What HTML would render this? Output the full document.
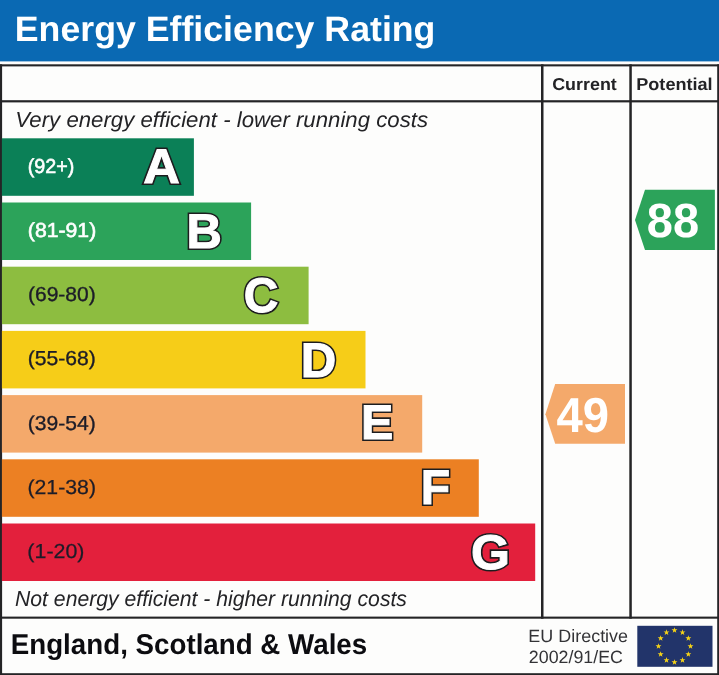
<!DOCTYPE html>
<html>
<head>
<meta charset="utf-8">
<title>Energy Efficiency Rating</title>
<style>
  html, body { margin: 0; padding: 0; background: #fdfdfc; }
  body { width: 719px; height: 675px; overflow: hidden; font-family: "Liberation Sans", sans-serif; }
  svg { display: block; will-change: transform; }
  text { font-family: "Liberation Sans", sans-serif; text-rendering: geometricPrecision; }
  .bw { fill: #fff; stroke: #fff; stroke-width: 0.6px; }
  .bd { fill: #1c1c28; stroke: #1c1c28; stroke-width: 0.35px; }
  .bl { fill: #1c1c28; stroke: #1c1c28; stroke-width: 0.25px; }
  .ltr { font-weight: bold; fill: #1d1d1f; stroke: #1d1d1f; stroke-width: 4.2px; stroke-linejoin: miter; stroke-miterlimit: 3; }
  .ltw { font-weight: bold; fill: #fff; stroke: #fff; stroke-width: 1px; stroke-linejoin: miter; stroke-miterlimit: 3; }
  .ital { font-style: italic; fill: #232326; }
  .hd { font-weight: bold; fill: #232326; }
  .eu { fill: #333336; }
  .num { font-weight: bold; fill: #fff; }
</style>
</head>
<body>
<svg width="719" height="675" viewBox="0 0 719 675">
  <rect x="0" y="0" width="719" height="675" fill="#fdfdfc"/>
  <!-- header -->
  <rect x="0" y="0" width="719" height="61.4" fill="#0a69b3"/>
  <text x="14.78" y="41.40" font-size="35.4px" textLength="420.67" lengthAdjust="spacingAndGlyphs" font-weight="bold" fill="#fff">Energy Efficiency Rating</text>

  <!-- frame -->
  <g fill="#242426">
    <rect x="0" y="64.3" width="719" height="2.1"/>
    <rect x="0" y="64.3" width="2.1" height="610.7"/>
    <rect x="717.2" y="64.3" width="1.8" height="610.7"/>
    <rect x="0" y="673.2" width="719" height="1.8"/>
    <rect x="0" y="100.2" width="719" height="2.2"/>
    <rect x="0" y="616.6" width="719" height="2.1"/>
    <rect x="541" y="64.3" width="2.5" height="554.4"/>
    <rect x="629.3" y="64.3" width="2.5" height="554.4"/>
  </g>

  <text x="552.21" y="89.60" font-size="17.2px" textLength="64.59" lengthAdjust="spacingAndGlyphs" class="hd">Current</text>
  <text x="636.26" y="89.60" font-size="17.2px" textLength="76.38" lengthAdjust="spacingAndGlyphs" class="hd">Potential</text>
  <text x="15.39" y="126.75" font-size="21.8px" textLength="412.65" lengthAdjust="spacingAndGlyphs" class="ital">Very energy efficient - lower running costs</text>
  <text x="15.02" y="606.00" font-size="21.8px" textLength="391.95" lengthAdjust="spacingAndGlyphs" class="ital">Not energy efficient - higher running costs</text>

  <!-- bars -->
  <rect x="1.9" y="138.3" width="192.0" height="57.5" fill="#0b8057"/>
  <rect x="1.9" y="202.5" width="249.2" height="57.5" fill="#2ca35a"/>
  <rect x="1.9" y="266.7" width="306.7" height="57.5" fill="#8dbd40"/>
  <rect x="1.9" y="330.9" width="363.6" height="57.5" fill="#f6cd18"/>
  <rect x="1.9" y="395.1" width="420.3" height="57.5" fill="#f4a96b"/>
  <rect x="1.9" y="459.3" width="476.9" height="57.5" fill="#ec8023"/>
  <rect x="1.9" y="523.5" width="533.3" height="57.5" fill="#e3203c"/>

  <text x="27.73" y="172.80" font-size="20.2px" textLength="46.56" lengthAdjust="spacingAndGlyphs" class="bw">(92+)</text>
  <text x="27.88" y="237.00" font-size="20.2px" textLength="68.32" lengthAdjust="spacingAndGlyphs" class="bw">(81-91)</text>
  <text x="27.95" y="301.20" font-size="20.2px" textLength="67.84" lengthAdjust="spacingAndGlyphs" class="bd">(69-80)</text>
  <text x="27.74" y="365.40" font-size="20.2px" textLength="67.99" lengthAdjust="spacingAndGlyphs" class="bd">(55-68)</text>
  <text x="27.75" y="429.60" font-size="20.2px" textLength="67.93" lengthAdjust="spacingAndGlyphs" class="bd">(39-54)</text>
  <text x="27.46" y="493.80" font-size="20.2px" textLength="68.51" lengthAdjust="spacingAndGlyphs" class="bl">(21-38)</text>
  <text x="27.35" y="558.00" font-size="20.2px" textLength="57.14" lengthAdjust="spacingAndGlyphs" class="bl">(1-20)</text>

  <text x="143.32" y="182.90" font-size="48.6px" textLength="36.57" lengthAdjust="spacingAndGlyphs" class="ltr">A</text><text x="143.32" y="182.90" font-size="48.6px" textLength="36.57" lengthAdjust="spacingAndGlyphs" class="ltw">A</text>
  <text x="186.44" y="247.60" font-size="48.6px" textLength="35.33" lengthAdjust="spacingAndGlyphs" class="ltr">B</text><text x="186.44" y="247.60" font-size="48.6px" textLength="35.33" lengthAdjust="spacingAndGlyphs" class="ltw">B</text>
  <text x="243.71" y="312.10" font-size="48.6px" textLength="34.60" lengthAdjust="spacingAndGlyphs" class="ltr">C</text><text x="243.71" y="312.10" font-size="48.6px" textLength="34.60" lengthAdjust="spacingAndGlyphs" class="ltw">C</text>
  <text x="300.82" y="377.30" font-size="48.6px" textLength="35.54" lengthAdjust="spacingAndGlyphs" class="ltr">D</text><text x="300.82" y="377.30" font-size="48.6px" textLength="35.54" lengthAdjust="spacingAndGlyphs" class="ltw">D</text>
  <text x="360.93" y="439.30" font-size="48.6px" textLength="32.27" lengthAdjust="spacingAndGlyphs" class="ltr">E</text><text x="360.93" y="439.30" font-size="48.6px" textLength="32.27" lengthAdjust="spacingAndGlyphs" class="ltw">E</text>
  <text x="420.85" y="504.00" font-size="48.6px" textLength="29.38" lengthAdjust="spacingAndGlyphs" class="ltr">F</text><text x="420.85" y="504.00" font-size="48.6px" textLength="29.38" lengthAdjust="spacingAndGlyphs" class="ltw">F</text>
  <text x="471.12" y="569.00" font-size="48.6px" textLength="38.94" lengthAdjust="spacingAndGlyphs" class="ltr">G</text><text x="471.12" y="569.00" font-size="48.6px" textLength="38.94" lengthAdjust="spacingAndGlyphs" class="ltw">G</text>

  <!-- arrows -->
  <polygon points="545.4,414.2 555.2,383.9 625,383.9 625,443.7 555.2,443.7" fill="#f4a96b"/>
  <text x="556.52" y="431.90" font-size="49px" textLength="52.56" lengthAdjust="spacingAndGlyphs" class="num">49</text>
  <polygon points="635,219.9 645,189.8 714.9,189.8 714.9,249.9 645,249.9" fill="#2ca35a"/>
  <text x="646.78" y="237.40" font-size="48px" textLength="52.29" lengthAdjust="spacingAndGlyphs" class="num">88</text>

  <!-- footer -->
  <text x="10.76" y="654.00" font-size="28.6px" textLength="356.43" lengthAdjust="spacingAndGlyphs" font-weight="bold" fill="#0c0c10">England, Scotland &amp; Wales</text>
  <text x="528.39" y="642.20" font-size="17.8px" textLength="99.69" lengthAdjust="spacingAndGlyphs" class="eu">EU Directive</text>
  <text x="528.83" y="662.50" font-size="17.8px" textLength="94.06" lengthAdjust="spacingAndGlyphs" class="eu">2002/91/EC</text>
  <rect x="637.3" y="625.8" width="75.2" height="41" fill="#22346a"/>
  <g fill="#f7d417">
    <polygon points="674.50,627.20 675.23,629.29 677.45,629.34 675.69,630.69 676.32,632.81 674.50,631.55 672.68,632.81 673.31,630.69 671.55,629.34 673.77,629.29"/>
    <polygon points="682.50,629.34 683.23,631.43 685.45,631.49 683.69,632.83 684.32,634.95 682.50,633.69 680.68,634.95 681.31,632.83 679.55,631.49 681.77,631.43"/>
    <polygon points="688.36,635.20 689.09,637.29 691.30,637.34 689.55,638.69 690.18,640.81 688.36,639.55 686.53,640.81 687.17,638.69 685.41,637.34 687.62,637.29"/>
    <polygon points="690.50,643.20 691.23,645.29 693.45,645.34 691.69,646.69 692.32,648.81 690.50,647.55 688.68,648.81 689.31,646.69 687.55,645.34 689.77,645.29"/>
    <polygon points="688.36,651.20 689.09,653.29 691.30,653.34 689.55,654.69 690.18,656.81 688.36,655.55 686.53,656.81 687.17,654.69 685.41,653.34 687.62,653.29"/>
    <polygon points="682.50,657.06 683.23,659.15 685.45,659.20 683.69,660.54 684.32,662.66 682.50,661.41 680.68,662.66 681.31,660.54 679.55,659.20 681.77,659.15"/>
    <polygon points="674.50,659.20 675.23,661.29 677.45,661.34 675.69,662.69 676.32,664.81 674.50,663.55 672.68,664.81 673.31,662.69 671.55,661.34 673.77,661.29"/>
    <polygon points="666.50,657.06 667.23,659.15 669.45,659.20 667.69,660.54 668.32,662.66 666.50,661.41 664.68,662.66 665.31,660.54 663.55,659.20 665.77,659.15"/>
    <polygon points="660.64,651.20 661.38,653.29 663.59,653.34 661.83,654.69 662.47,656.81 660.64,655.55 658.82,656.81 659.45,654.69 657.70,653.34 659.91,653.29"/>
    <polygon points="658.50,643.20 659.23,645.29 661.45,645.34 659.69,646.69 660.32,648.81 658.50,647.55 656.68,648.81 657.31,646.69 655.55,645.34 657.77,645.29"/>
    <polygon points="660.64,635.20 661.38,637.29 663.59,637.34 661.83,638.69 662.47,640.81 660.64,639.55 658.82,640.81 659.45,638.69 657.70,637.34 659.91,637.29"/>
    <polygon points="666.50,629.34 667.23,631.43 669.45,631.49 667.69,632.83 668.32,634.95 666.50,633.69 664.68,634.95 665.31,632.83 663.55,631.49 665.77,631.43"/>
  </g>
</svg>
</body>
</html>
